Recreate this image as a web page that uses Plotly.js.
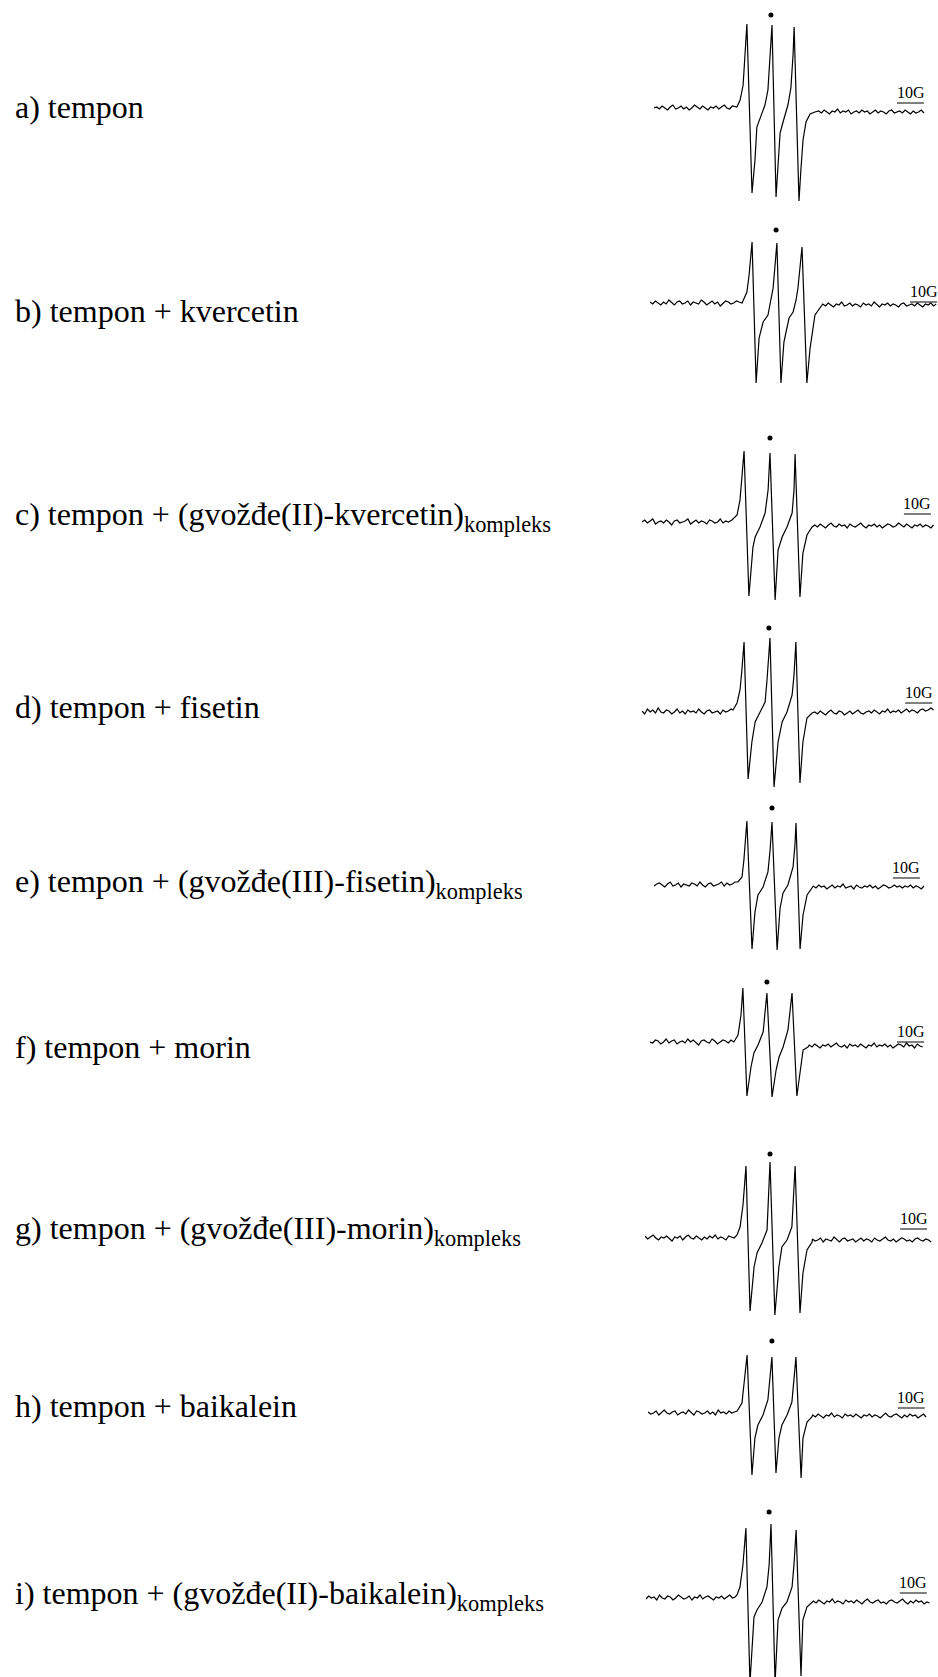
<!DOCTYPE html>
<html>
<head>
<meta charset="utf-8">
<script src="https://cdn.plot.ly/plotly-3.0.1.min.js"></script>
<style>
  html, body { margin: 0; padding: 0; background: #fff; }
  #plot { width: 938px; height: 1677px; }
</style>
</head>
<body>
<div id="plot"></div>
<script>
// EPR spectra of tempon: field in G (relative), signal in a.u.

var labels = [
  'a) tempon',
  'b) tempon + kvercetin',
  'c) tempon + (gvožđe(II)-kvercetin)<sub>kompleks</sub>',
  'd) tempon + fisetin',
  'e) tempon + (gvožđe(III)-fisetin)<sub>kompleks</sub>',
  'f) tempon + morin',
  'g) tempon + (gvožđe(III)-morin)<sub>kompleks</sub>',
  'h) tempon + baikalein',
  'i) tempon + (gvožđe(II)-baikalein)<sub>kompleks</sub>'
];

var fieldA = [0,1,2,3,4,5,6,7,8,9,10,11,12,13,14,15,16,17,18,19,20,21,22,23,24,25,26,27,28,29,30,
  30.7,31.9,33.0,33.7,34.4,36.3,37.4,38.1,39.3,40.0,41.1,42.2,43.0,43.7,45.2,45.9,46.7,47.8,48.5,49.6,50.7,51.5,51.9,53.7,54.4,55.2,56.3,57.8,59.6,
  61,62,63,64,65,66,67,68,69,70,71,72,73,74,75,76,77,78,79,80,81,82,83,84,85,86,87,88,89,90,91,92,93,94,95,96,97,98,99,100];
var signalA = [0,1,-1,2,0,-2,1,3,-1,0,2,-1,1,-2,0,3,1,-1,2,0,-2,1,0,2,-1,1,3,0,-1,2,1,
  1,8,23,53,84,-85,-52,-19,-10,-5,3,18,48,83,-89,-57,-25,-14,-7,3,20,53,81,-93,-62,-32,-14,-6,-4,
  -3,-5,-2,-4,-6,-3,-4,-1,-5,-3,-4,-2,-6,-4,-3,-5,-2,-4,-3,-6,-4,-2,-5,-3,-4,-6,-3,-2,-5,-4,-3,-5,-2,-4,-6,-3,-5,-4,-2,-5];

var fieldB = [0,1,2,3,4,5,6,7,8,9,10,11,12,13,14,15,16,17,18,19,20,21,22,23,24,25,26,27,28,29,30,31,32,33,
  34.1,35.9,36.7,37.8,39.3,40.4,41.9,43.7,44.8,45.6,47.0,48.5,49.6,51.5,53.0,54.1,54.8,56.3,58.1,59.3,61.1,63.0,
  64,65,66,67,68,69,70,71,72,73,74,75,76,77,78,79,80,81,82,83,84,85,86,87,88,89,90,91,92,93,94,95,96,97,98,99,100,101,102,103,104,105,106];
var signalB = [1,-1,2,0,-2,1,-1,3,0,-2,1,2,-1,0,2,-2,1,0,-1,3,1,-2,0,2,-1,1,-3,0,2,1,-1,0,2,1,
  0,11,28,61,-80,-35,-19,-12,3,15,60,-80,-39,-15,-9,3,15,56,-80,-45,-12,-4,
  -1,-3,0,-2,-4,-1,-2,1,-3,-2,0,-3,-1,-2,-4,0,-2,-1,-3,1,-2,-4,-1,-2,0,-3,-1,-2,-4,-1,0,-3,-2,-1,-3,0,-2,-4,-1,-2,0,-3,-1];

var fieldC = [0,1,2,3,4,5,6,7,8,9,10,11,12,13,14,15,16,17,18,19,20,21,22,23,24,25,26,27,28,29,30,31,32,
  33.3,35.2,36.3,37.0,37.8,39.6,41.1,41.9,43.7,45.6,46.7,47.4,49.3,50.4,51.9,53.7,55.6,56.3,56.7,58.5,59.6,61.1,63.0,
  64,65,66,67,68,69,70,71,72,73,74,75,76,77,78,79,80,81,82,83,84,85,86,87,88,89,90,91,92,93,94,95,96,97,98,99,100,101,102,103,104,105,106,107,108];
var signalC = [0,2,-1,1,3,-2,0,1,-1,2,0,-3,1,2,-1,0,1,3,-2,0,2,-1,1,0,-2,2,1,-1,0,3,-1,1,0,
  2,7,22,42,71,-74,-25,-15,-5,9,32,69,-78,-28,-15,-5,9,32,68,-75,-31,-13,-5,
  -3,-5,-2,-4,-6,-3,-1,-4,-5,-2,-4,-3,-6,-2,-4,-5,-3,-1,-4,-6,-3,-4,-2,-5,-3,-6,-4,-2,-3,-5,-4,-1,-3,-5,-2,-4,-6,-3,-4,-2,-5,-3,-4,-6,-3];

var fieldD = [0,1,2,3,4,5,6,7,8,9,10,11,12,13,14,15,16,17,18,19,20,21,22,23,24,25,26,27,28,29,30,31,32,33,
  33.7,35.2,36.3,37.0,37.8,39.3,40.7,41.9,43.7,45.6,46.3,47.4,48.9,50.4,51.9,53.7,55.6,56.3,57.0,58.5,59.6,61.1,63.0,
  64,65,66,67,68,69,70,71,72,73,74,75,76,77,78,79,80,81,82,83,84,85,86,87,88,89,90,91,92,93,94,95,96,97,98,99,100,101,102,103,104,105,106,107,108];
var signalD = [1,-2,3,0,2,-1,4,0,-1,2,1,-2,0,3,-1,1,-2,2,0,1,-1,3,0,-2,1,2,-1,0,1,-2,2,0,1,3,
  2,9,22,42,70,-67,-30,-10,0,10,32,74,-75,-30,-10,0,17,37,70,-71,-30,-6,-1,
  0,-2,1,-1,-3,0,2,-1,-2,1,0,-3,-1,1,-2,0,2,-1,-2,0,1,-1,2,0,-2,1,0,3,-1,1,0,2,-1,1,3,0,2,1,-1,2,3,1,2,4,2];

var fieldE = [0,1,2,3,4,5,6,7,8,9,10,11,12,13,14,15,16,17,18,19,20,21,22,23,24,25,26,27,28,29,30,
  31.1,32.6,33.3,34.4,36.3,37.4,38.5,40.4,42.2,43.0,43.7,45.6,46.7,47.8,49.6,51.5,52.2,52.6,54.1,55.2,56.7,58.5,
  59,60,61,62,63,64,65,66,67,68,69,70,71,72,73,74,75,76,77,78,79,80,81,82,83,84,85,86,87,88,89,90,91,92,93,94,95,96,97,98,99,100];
var signalE = [-1,1,2,0,-2,1,3,-1,0,2,-2,1,0,-1,2,1,-1,3,0,-2,1,2,-1,0,1,3,-1,2,0,1,3,
  3,8,25,64,-64,-27,-10,-2,13,35,63,-65,-23,-8,0,18,40,62,-64,-30,-10,-2,
  -1,-3,0,-2,-1,-4,-2,0,-3,-1,-2,1,-3,-2,-1,-4,0,-2,-3,-1,-2,0,-3,-1,-4,-2,0,-1,-3,-2,0,-2,-1,-3,-1,-2,0,-3,-1,-2,-4,-1];

var fieldF = [0,1,2,3,4,5,6,7,8,9,10,11,12,13,14,15,16,17,18,19,20,21,22,23,24,25,26,27,28,29,30,31,
  31.5,32.6,33.7,34.4,35.9,37.4,38.5,40.0,41.9,42.6,43.3,45.2,46.7,47.8,49.3,51.1,51.9,52.6,54.4,55.6,56.7,58.5,
  59,60,61,62,63,64,65,66,67,68,69,70,71,72,73,74,75,76,77,78,79,80,81,82,83,84,85,86,87,88,89,90,91,92,93,94,95,96,97,98,99,100,101];
var signalF = [0,-1,2,1,-2,0,3,-1,1,2,-2,0,1,-1,3,0,2,-1,-3,1,2,0,-1,3,1,-2,0,2,1,-1,2,0,
  2,7,27,54,-54,-25,-11,-3,10,27,49,-55,-28,-15,-5,12,32,49,-54,-28,-8,-5,
  -3,-5,-2,-4,-6,-3,-4,-2,-5,-3,-1,-4,-5,-3,-6,-2,-4,-3,-5,-2,-4,-6,-3,-4,-1,-5,-3,-4,-2,-5,-3,-6,-4,-2,-3,-5,-1,-4,-3,-6,-2,-4,-5];

var fieldG = [0,1,2,3,4,5,6,7,8,9,10,11,12,13,14,15,16,17,18,19,20,21,22,23,24,25,26,27,28,29,30,31,32,33,
  34.1,35.2,36.3,37.4,38.9,40.4,41.5,43.3,45.2,45.6,46.3,48.1,49.6,50.7,52.6,54.4,54.8,55.6,57.4,58.5,60.0,61.9,
  62,63,64,65,66,67,68,69,70,71,72,73,74,75,76,77,78,79,80,81,82,83,84,85,86,87,88,89,90,91,92,93,94,95,96,97,98,99,100,101,102,103,104,105,106];
var signalG = [2,-1,1,3,0,-2,1,0,2,-1,-3,1,0,2,-2,1,3,0,-1,2,0,-2,1,-1,2,0,3,-1,1,0,-2,2,1,0,
  3,11,33,72,-73,-29,-15,-5,8,28,76,-77,-29,-9,-2,11,33,72,-75,-35,-12,-4,
  -1,-3,-2,0,-4,-1,-2,-3,1,-2,-4,-1,0,-3,-2,-1,-4,-2,0,-3,-1,-2,-4,0,-2,-3,-1,1,-2,-3,-1,-4,-2,0,-1,-3,-2,-4,-1,0,-2,-3,-1,-2,-4];

var fieldH = [0,1,2,3,4,5,6,7,8,9,10,11,12,13,14,15,16,17,18,19,20,21,22,23,24,25,26,27,28,29,30,31,32,
  33.0,34.8,35.6,36.7,38.5,39.6,40.7,42.6,44.4,45.2,45.9,47.4,48.5,49.6,51.5,53.3,54.1,54.8,56.7,57.4,58.9,60.7,
  61,62,63,64,65,66,67,68,69,70,71,72,73,74,75,76,77,78,79,80,81,82,83,84,85,86,87,88,89,90,91,92,93,94,95,96,97,98,99,100,101,102,103];
var signalH = [1,-1,0,2,-2,1,3,0,-1,1,2,-2,0,1,-1,3,0,-2,2,1,-1,0,2,-1,1,-2,3,0,1,-1,2,0,1,
  2,10,28,58,-62,-25,-12,-2,13,33,56,-60,-25,-12,-2,11,33,56,-65,-25,-9,-4,
  -2,-4,-1,-3,-5,-2,-3,0,-4,-2,-3,-5,-1,-3,-2,-4,-1,-3,-5,-2,-3,-1,-4,-2,-3,-5,-2,0,-3,-4,-2,-1,-3,-5,-2,-4,-1,-3,-2,-5,-3,-1,-4];

var fieldI = [0,1,2,3,4,5,6,7,8,9,10,11,12,13,14,15,16,17,18,19,20,21,22,23,24,25,26,27,28,29,30,31,32,33,
  33.7,34.8,35.9,37.0,38.5,40.0,41.1,43.0,44.8,45.6,46.3,47.8,48.9,50.4,52.2,54.1,54.8,55.6,57.4,58.1,59.6,61.5,
  62,63,64,65,66,67,68,69,70,71,72,73,74,75,76,77,78,79,80,81,82,83,84,85,86,87,88,89,90,91,92,93,94,95,96,97,98,99,100,101,102,103,104,105];
var signalI = [-1,2,0,1,-2,3,0,-1,2,1,-2,0,3,1,-1,0,2,-2,1,0,3,-1,1,2,0,-2,1,0,2,-1,1,3,0,1,
  3,11,33,70,-85,-19,-12,-4,11,33,74,-85,-22,-10,-4,11,33,68,-78,-22,-9,-5,
  -3,-5,-2,-4,-6,-3,-4,-1,-5,-3,-4,-6,-2,-4,-3,-5,-2,-4,-6,-3,-1,-4,-5,-3,-2,-5,-4,-6,-3,-2,-4,-5,-3,-1,-4,-6,-3,-5,-2,-4,-3,-6,-4,-5];

// central line marker (dot) for each spectrum
var dotField  = [43.3, 46.7, 47.4, 47.0, 43.7, 43.3, 46.3, 45.9, 45.6];
var dotSignal = [93, 73, 84, 84, 77, 60, 84, 72, 86];

var fields  = [fieldA, fieldB, fieldC, fieldD, fieldE, fieldF, fieldG, fieldH, fieldI];
var signals = [signalA, signalB, signalC, signalD, signalE, signalF, signalG, signalH, signalI];

// placement of each spectrum on the page (pixels) and its 10 G scale bar
var W = 938, H = 1677, pxPerG = 2.7;
var panels = [
  {left: 654, span: 100.4, base: 108,  labelY: 107,  bar: [90.0, 5]},
  {left: 650, span: 106.3, base: 303,  labelY: 311,  bar: [96.3, 1]},
  {left: 642, span: 108.9, base: 522,  labelY: 516,  bar: [97.0, 8]},
  {left: 642, span: 108.5, base: 712,  labelY: 707,  bar: [97.5, 9]},
  {left: 654, span: 100.0, base: 885,  labelY: 883,  bar: [88.5, 7]},
  {left: 650, span: 101.9, base: 1042, labelY: 1047, bar: [91.5, 0]},
  {left: 645, span: 106.3, base: 1238, labelY: 1230, bar: [94.5, 9]},
  {left: 648, span: 103.3, base: 1413, labelY: 1406, bar: [92.5, 5]},
  {left: 646, span: 105.9, base: 1598, labelY: 1595, bar: [94.0, 5]}
];

var serif = '"Liberation Serif", "Times New Roman", serif';
var traces = [];
var layout = {
  width: W, height: H,
  margin: {l: 0, r: 0, t: 0, b: 0},
  paper_bgcolor: '#fff', plot_bgcolor: 'rgba(0,0,0,0)',
  showlegend: false,
  shapes: [], annotations: []
};

panels.forEach(function (p, i) {
  var n = i === 0 ? '' : String(i + 1);
  var xr = 'x' + n, yr = 'y' + n;
  var top = Math.max(0, p.base - 110), bottom = Math.min(H, p.base + 110);

  layout['xaxis' + n] = {
    domain: [p.left / W, (p.left + p.span * pxPerG) / W],
    range: [0, p.span], visible: false, fixedrange: true
  };
  layout['yaxis' + n] = {
    domain: [1 - bottom / H, 1 - top / H],
    range: [p.base - bottom, p.base - top], visible: false, fixedrange: true
  };

  traces.push({
    x: fields[i], y: signals[i], xaxis: xr, yaxis: yr,
    type: 'scatter', mode: 'lines', hoverinfo: 'skip',
    line: {color: '#000', width: 1.2}
  });
  traces.push({
    x: [dotField[i]], y: [dotSignal[i]], xaxis: xr, yaxis: yr,
    type: 'scatter', mode: 'markers', hoverinfo: 'skip',
    marker: {color: '#000', size: 5}
  });

  layout.shapes.push({
    type: 'line', xref: xr, yref: yr,
    x0: p.bar[0], x1: p.bar[0] + 10, y0: p.bar[1], y1: p.bar[1],
    line: {color: '#000', width: 1}
  });
  layout.annotations.push({
    xref: xr, yref: yr, x: p.bar[0] + 5, y: p.bar[1],
    xanchor: 'center', yanchor: 'bottom', showarrow: false,
    text: '10G', font: {family: serif, size: 16, color: '#000'}
  });
  layout.annotations.push({
    xref: 'paper', yref: 'paper', x: 13 / W, y: 1 - p.labelY / H,
    xanchor: 'left', yanchor: 'middle', showarrow: false, align: 'left',
    text: labels[i], font: {family: serif, size: 32, color: '#000'}
  });
});

Plotly.newPlot('plot', traces, layout, {staticPlot: true});
</script>
</body>
</html>
